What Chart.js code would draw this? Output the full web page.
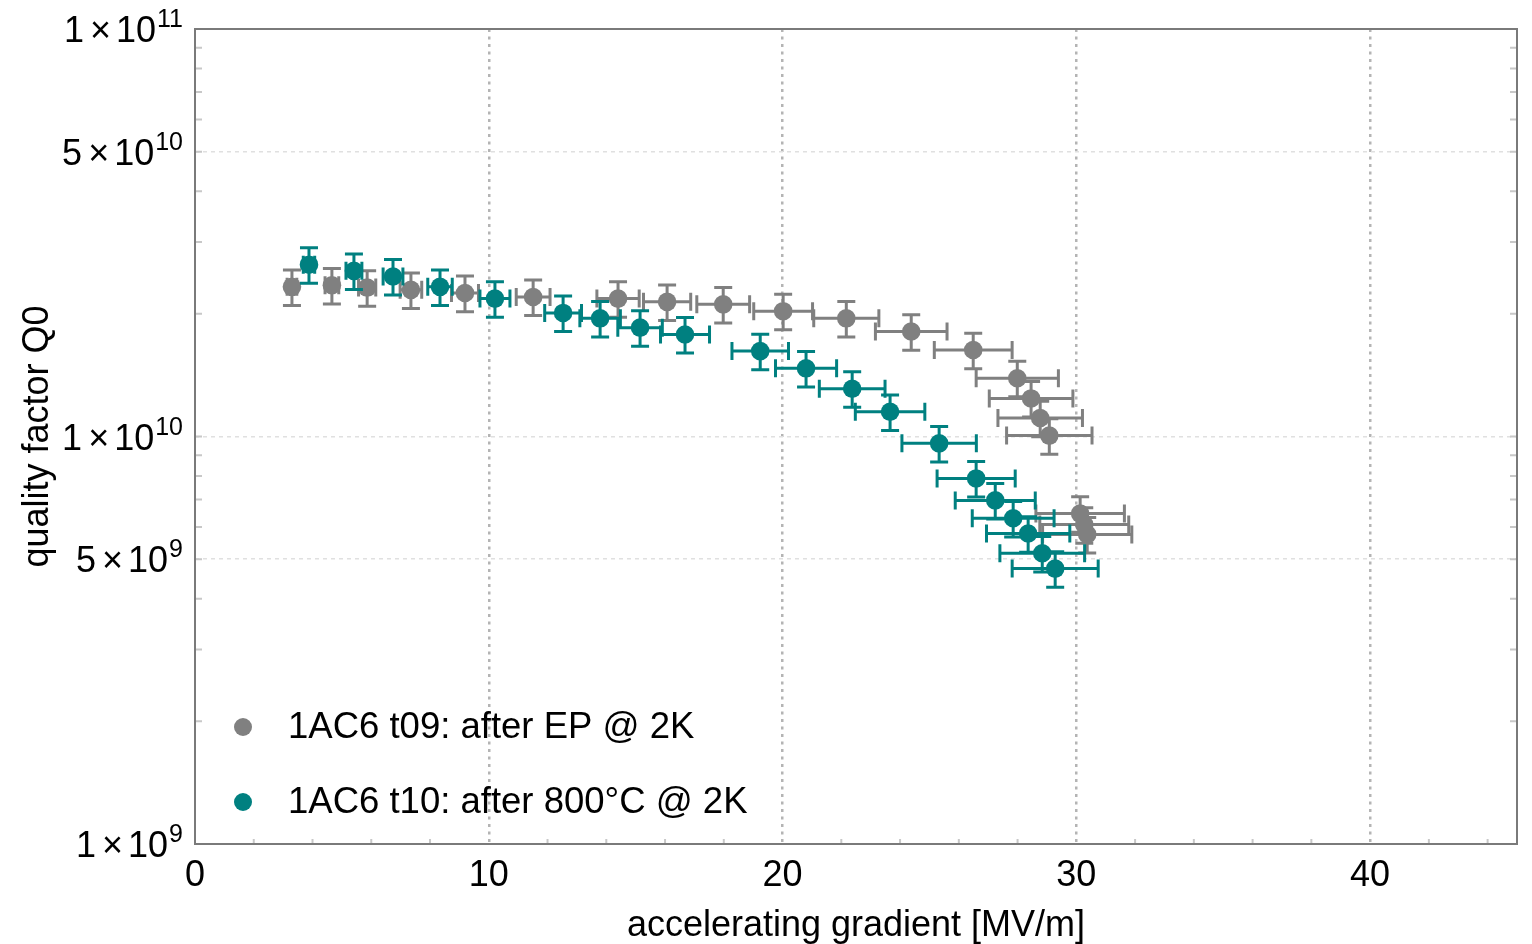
<!DOCTYPE html>
<html>
<head>
<meta charset="utf-8">
<script src="https://cdn.jsdelivr.net/npm/chart.js@4.4.0/dist/chart.umd.min.js"></script>
<style>
  html, body { margin: 0; padding: 0; background: #fff; }
  #wrap { width: 1532px; height: 944px; }
</style>
</head>
<body>
<div id="wrap"><canvas id="q0Chart"></canvas></div>
<script>
// Q0 vs accelerating gradient, cavity 1AC6, two tests at 2K
const gradT09 = [3.3, 4.66, 5.86, 7.35, 9.19, 11.51, 14.4, 16.07, 17.98, 20.02, 22.17, 24.38, 26.49, 27.99, 28.46, 28.77, 29.08, 30.13, 30.27, 30.37];
const q0T09 = [2.33e10, 2.35e10, 2.32e10, 2.29e10, 2.25e10, 2.2e10, 2.18e10, 2.14e10, 2.11e10, 2.03e10, 1.95e10, 1.81e10, 1.63e10, 1.39e10, 1.24e10, 1.11e10, 1.005e10, 6.47e9, 6.08e9, 5.75e9];

const gradT10 = [3.88, 5.41, 6.74, 8.34, 10.21, 12.53, 13.79, 15.15, 16.68, 19.24, 20.8, 22.37, 23.66, 25.33, 26.59, 27.24, 27.85, 28.36, 28.84, 29.28];
const q0T10 = [2.64e10, 2.55e10, 2.47e10, 2.33e10, 2.18e10, 2.01e10, 1.95e10, 1.85e10, 1.78e10, 1.62e10, 1.47e10, 1.31e10, 1.15e10, 9.62e9, 7.89e9, 6.97e9, 6.3e9, 5.78e9, 5.17e9, 4.74e9];

const seriesLabels = ['1AC6 t09: after EP @ 2K', '1AC6 t10: after 800°C @ 2K'];
const seriesColors = ['#808080', '#008080'];

// relative measurement uncertainty (as drawn in the plot)
const gradErrRel = 0.05;
const q0ErrRel = 0.10;

const xTicks = [0, 10, 20, 30, 40];
const xMinorTicks = [2, 4, 6, 8, 12, 14, 16, 18, 22, 24, 26, 28, 32, 34, 36, 38, 42, 44];
const yTicks = [1e9, 5e9, 1e10, 5e10, 1e11];
const yMinorTicks = [2e9, 3e9, 4e9, 6e9, 7e9, 8e9, 9e9, 2e10, 3e10, 4e10, 6e10, 7e10, 8e10, 9e10];

const FONT = "'Liberation Sans', Arial, sans-serif";

function toPoints(xs, ys) {
    return xs.map((x, i) => ({ x: x, y: ys[i] }));
}

const extrasPlugin = {
    id: 'extras',
    // error bars go under each dataset's markers
    beforeDatasetDraw(chart, args) {
        const ds = chart.data.datasets[args.index];
        const xs = chart.scales.x, ys = chart.scales.y;
        const ctx = chart.ctx;
        const cap = 9;
        ctx.save();
        ctx.strokeStyle = ds.backgroundColor;
        ctx.lineWidth = 3;
        ds.data.forEach(p => {
            const px = xs.getPixelForValue(p.x);
            const py = ys.getPixelForValue(p.y);
            const xl = xs.getPixelForValue(p.x * (1 - gradErrRel));
            const xr = xs.getPixelForValue(p.x * (1 + gradErrRel));
            const yt = ys.getPixelForValue(p.y * (1 + q0ErrRel));
            const yb = ys.getPixelForValue(p.y * (1 - q0ErrRel));
            ctx.beginPath();
            ctx.moveTo(xl, py); ctx.lineTo(xr, py);
            ctx.moveTo(xl, py - cap); ctx.lineTo(xl, py + cap);
            ctx.moveTo(xr, py - cap); ctx.lineTo(xr, py + cap);
            ctx.moveTo(px, yt); ctx.lineTo(px, yb);
            ctx.moveTo(px - cap, yt); ctx.lineTo(px + cap, yt);
            ctx.moveTo(px - cap, yb); ctx.lineTo(px + cap, yb);
            ctx.stroke();
        });
        ctx.restore();
    },
    afterDraw(chart) {
        const ctx = chart.ctx;
        const a = chart.chartArea;
        const xs = chart.scales.x, ys = chart.scales.y;
        ctx.save();

        // minor ticks, inward
        ctx.strokeStyle = '#c8c8c8';
        ctx.lineWidth = 2;
        ctx.beginPath();
        yMinorTicks.concat(yTicks).forEach(v => {
            const py = ys.getPixelForValue(v);
            ctx.moveTo(a.left, py); ctx.lineTo(a.left + 7, py);
            ctx.moveTo(a.right, py); ctx.lineTo(a.right - 7, py);
        });
        xMinorTicks.forEach(v => {
            const px = xs.getPixelForValue(v);
            ctx.moveTo(px, a.bottom); ctx.lineTo(px, a.bottom - 5);
        });
        ctx.stroke();

        // frame
        ctx.strokeStyle = '#7a7a7a';
        ctx.lineWidth = 2;
        ctx.strokeRect(a.left, a.top, a.right - a.left, a.bottom - a.top);

        // y tick labels as  m × 10^e
        ctx.fillStyle = '#000';
        ctx.textBaseline = 'alphabetic';
        ctx.textAlign = 'left';
        yTicks.forEach(v => {
            const py = ys.getPixelForValue(v);
            const e = Math.floor(Math.log10(v) + 1e-9);
            const m = Math.round(v / Math.pow(10, e));
            let xr = a.left - 12;
            ctx.font = '25px ' + FONT;
            const ew = ctx.measureText(String(e)).width;
            ctx.fillText(String(e), xr - ew, py - 2);
            xr -= ew + 1;
            ctx.font = '36px ' + FONT;
            const tw = ctx.measureText('10').width;
            ctx.fillText('10', xr - tw, py + 13);
            xr -= tw + 5;
            const cw = ctx.measureText('×').width;
            ctx.fillText('×', xr - cw, py + 13);
            xr -= cw + 6;
            const mw = ctx.measureText(String(m)).width;
            ctx.fillText(String(m), xr - mw, py + 13);
        });

        // legend, lower left inside the frame
        ctx.font = '36.5px ' + FONT;
        ctx.textBaseline = 'middle';
        const rows = [727, 802];
        chart.data.datasets.forEach((ds, i) => {
            ctx.fillStyle = ds.backgroundColor;
            ctx.beginPath();
            ctx.arc(243, rows[i], 9, 0, Math.PI * 2);
            ctx.fill();
            ctx.fillStyle = '#000';
            ctx.fillText(ds.label, 288, rows[i] + 1);
        });
        ctx.restore();
    }
};

window.addEventListener('DOMContentLoaded', () => {
    const ctx = document.getElementById('q0Chart').getContext('2d');
    new Chart(ctx, {
        type: 'scatter',
        data: {
            datasets: [{
                label: seriesLabels[0],
                data: toPoints(gradT09, q0T09),
                backgroundColor: seriesColors[0],
                borderWidth: 0,
                pointRadius: 9.3,
                order: 2
            }, {
                label: seriesLabels[1],
                data: toPoints(gradT10, q0T10),
                backgroundColor: seriesColors[1],
                borderWidth: 0,
                pointRadius: 9.3,
                order: 1
            }]
        },
        options: {
            responsive: true,
            maintainAspectRatio: false,
            animation: false,
            layout: { padding: { top: 29, right: 15, left: 0, bottom: 0 } },
            plugins: {
                legend: { display: false },
                tooltip: { enabled: false }
            },
            scales: {
                x: {
                    type: 'linear',
                    min: 0,
                    max: 45,
                    afterBuildTicks: scale => { scale.ticks = xTicks.map(v => ({ value: v })); },
                    afterFit: scale => { scale.height = 100; },
                    ticks: {
                        color: '#000',
                        font: { family: FONT, size: 36 },
                        padding: 10,
                        maxRotation: 0
                    },
                    grid: {
                        drawTicks: false,
                        lineWidth: 2.5,
                        color: c => (c.tick && c.tick.value > 0) ? '#b4b4b4' : 'rgba(0,0,0,0)'
                    },
                    border: { display: false, dash: [3, 4.5] },
                    title: {
                        display: true,
                        text: 'accelerating gradient [MV/m]',
                        color: '#000',
                        font: { family: FONT, size: 36, lineHeight: 1.0 },
                        padding: { top: 0, bottom: 0 }
                    }
                },
                y: {
                    type: 'logarithmic',
                    min: 1e9,
                    max: 1e11,
                    afterBuildTicks: scale => { scale.ticks = yTicks.map(v => ({ value: v })); },
                    afterFit: scale => { scale.width = 195; },
                    ticks: { display: false },
                    grid: {
                        drawTicks: false,
                        lineWidth: 1.5,
                        color: c => (c.tick && c.tick.value > 1e9 && c.tick.value < 1e11) ? '#e0e0e0' : 'rgba(0,0,0,0)'
                    },
                    border: { display: false, dash: [4, 4] },
                    title: {
                        display: true,
                        text: 'quality factor Q0',
                        color: '#000',
                        font: { family: FONT, size: 36 },
                        padding: { top: 16, bottom: 0 }
                    }
                }
            }
        },
        plugins: [extrasPlugin]
    });
});
</script>
</body>
</html>
